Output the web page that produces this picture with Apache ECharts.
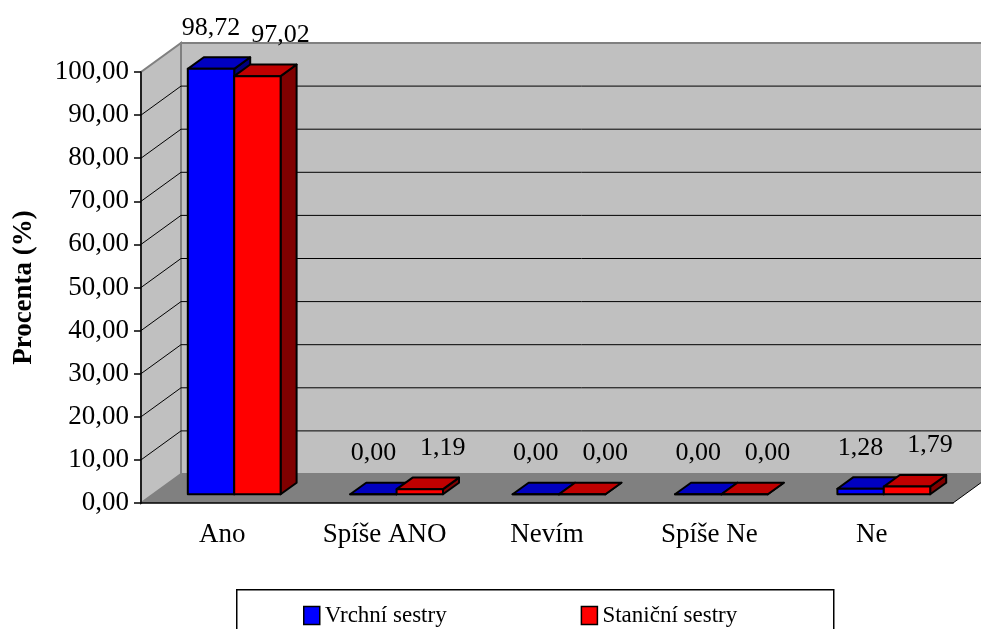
<!DOCTYPE html>
<html>
<head>
<meta charset="utf-8">
<script src="https://cdn.jsdelivr.net/npm/echarts@6/dist/echarts.min.js"></script>
<style>
  html, body { margin: 0; padding: 0; background: #ffffff; }
  #chart { width: 981px; height: 629px; }
</style>
</head>
<body>
<div id="chart"></div>
<script>
// Answers and percentages for both groups of nurses
const categories = ['Ano', 'Spíše ANO', 'Nevím', 'Spíše Ne', 'Ne'];
const vrchniSestry = [98.72, 0.00, 0.00, 0.00, 1.28];
const stanicniSestry = [97.02, 1.19, 0.00, 0.00, 1.79];
const seriesNames = ['Vrchní sestry', 'Staniční sestry'];
const yMin = 0, yMax = 100, yStep = 10;

// Pseudo-3D look: depth of the chart box in pixels and the slice the bars occupy
const DEPTH_X = 40, DEPTH_Y = -29;
const BAR_F0 = 0.3, BAR_F1 = 0.7;
const FONT = '"Liberation Serif", "Times New Roman", serif';
const FONT_SIZE = 27;
const LABEL_SIZE = 26;
const LEGEND_SIZE = 23;

const fmt = v => v.toFixed(2).replace('.', ',');

const palettes = [
  { front: '#0000FF', top: '#0000C0', side: '#000080' },
  { front: '#FF0000', top: '#C00000', side: '#800000' }
];

function wallsRenderer(params, api) {
  const cw = api.size([1, 0])[0];
  const x0 = api.coord([0, yMin])[0] - cw / 2;
  const x1 = api.coord([categories.length - 1, yMin])[0] + cw / 2;
  const yb = api.coord([0, yMin])[1];
  const yt = api.coord([0, yMax])[1];
  const dx = DEPTH_X, dy = DEPTH_Y;
  const children = [];
  // back wall
  children.push({ type: 'polygon', shape: { points: [[x0 + dx, yt + dy], [x1 + dx, yt + dy], [x1 + dx, yb + dy], [x0 + dx, yb + dy]] },
    style: { fill: '#C0C0C0', stroke: '#808080', lineWidth: 2 } });
  // left side wall
  children.push({ type: 'polygon', shape: { points: [[x0, yb], [x0, yt], [x0 + dx, yt + dy], [x0 + dx, yb + dy]] },
    style: { fill: '#C0C0C0', stroke: '#808080', lineWidth: 2 } });
  // floor
  children.push({ type: 'polygon', shape: { points: [[x0, yb], [x1, yb], [x1 + dx, yb + dy], [x0 + dx, yb + dy]] },
    style: { fill: '#808080', stroke: null } });
  children.push({ type: 'line', shape: { x1: x1, y1: yb, x2: x1 + dx, y2: yb + dy },
    style: { stroke: '#000', lineWidth: 1 } });
  // grid lines along the side and back walls
  for (let v = yMin + yStep; v < yMax; v += yStep) {
    const y = api.coord([0, v])[1];
    children.push({ type: 'polyline', shape: { points: [[x0, y], [x0 + dx, y + dy], [x1 + dx, y + dy]] },
      style: { stroke: '#000', lineWidth: 1, fill: null } });
  }
  return { type: 'group', children: children };
}

function barRenderer(seriesIdx) {
  const pal = palettes[seriesIdx];
  return function (params, api) {
    const ci = api.value(0), v = api.value(1);
    const base = api.coord([ci, 0]);
    const top = api.coord([ci, v]);
    const cw = api.size([1, 0])[0];
    const w = cw / 3.5;
    const xl = base[0] - w + seriesIdx * w;
    const xr = xl + w;
    const ox0 = DEPTH_X * BAR_F0, oy0 = DEPTH_Y * BAR_F0;
    const ox1 = DEPTH_X * BAR_F1, oy1 = DEPTH_Y * BAR_F1;
    const yb = base[1], yt = top[1];
    const edge = { stroke: '#000', lineWidth: 2, lineJoin: 'round' };
    const children = [
      { type: 'polygon', shape: { points: [[xr + ox0, yt + oy0], [xr + ox1, yt + oy1], [xr + ox1, yb + oy1], [xr + ox0, yb + oy0]] },
        style: Object.assign({ fill: pal.side }, edge) },
      { type: 'polygon', shape: { points: [[xl + ox0, yt + oy0], [xr + ox0, yt + oy0], [xr + ox1, yt + oy1], [xl + ox1, yt + oy1]] },
        style: Object.assign({ fill: pal.top }, edge) },
      { type: 'polygon', shape: { points: [[xl + ox0, yt + oy0], [xr + ox0, yt + oy0], [xr + ox0, yb + oy0], [xl + ox0, yb + oy0]] },
        style: Object.assign({ fill: pal.front }, edge) },
      { type: 'text', style: {
          text: fmt(v),
          x: (xl + xr) / 2 + (seriesIdx === 0 ? 12 : 35),
          y: yt + oy0 - 41,
          fill: '#000', font: LABEL_SIZE + 'px ' + FONT,
          align: 'center', verticalAlign: 'middle',
          textAlign: 'center', textVerticalAlign: 'middle'
        } }
    ];
    return { type: 'group', children: children };
  };
}

const chart = echarts.init(document.getElementById('chart'), null, { renderer: 'canvas' });
chart.setOption({
  backgroundColor: '#ffffff',
  animation: false,
  grid: { left: 141, right: 28, top: 72, bottom: 126, containLabel: false, outerBoundsMode: 'none' },
  xAxis: {
    type: 'category', data: categories, z: 10,
    axisLine: { lineStyle: { color: '#000', width: 1.5 } },
    axisTick: { length: 7, lineStyle: { color: '#000', width: 1.5 } },
    axisLabel: { color: '#000', fontFamily: FONT, fontSize: FONT_SIZE, margin: 18 },
    splitLine: { show: false }
  },
  yAxis: {
    type: 'value', min: yMin, max: yMax, interval: yStep, z: 10,
    name: 'Procenta (%)', nameLocation: 'middle', nameGap: 103,
    nameTextStyle: { color: '#000', fontFamily: FONT, fontSize: FONT_SIZE, fontWeight: 'bold' },
    axisLine: { show: true, lineStyle: { color: '#000', width: 1.5 } },
    axisTick: { show: true, length: 7, lineStyle: { color: '#000', width: 1.5 } },
    axisLabel: { color: '#000', fontFamily: FONT, fontSize: FONT_SIZE, margin: 12, formatter: fmt },
    splitLine: { show: false }
  },
  legend: {
    data: seriesNames, left: 298, top: 599, padding: 5, icon: 'rect',
    itemWidth: 16, itemHeight: 18, itemGap: 134,
    itemStyle: { borderColor: '#000', borderWidth: 1.5 },
    textStyle: { color: '#000', fontFamily: FONT, fontSize: LEGEND_SIZE, padding: [0, 0, 0, 0] }
  },
  graphic: [{
    type: 'rect', left: 236, top: 589, z: -1,
    shape: { width: 597, height: 60 },
    style: { fill: '#fff', stroke: '#000', lineWidth: 1.5 }
  }],
  series: [
    { type: 'custom', name: 'walls', z: 1, silent: true, renderItem: wallsRenderer, data: [[0, 0]], encode: { x: 0, y: 1 } },
    { type: 'custom', name: seriesNames[0], z: 2, renderItem: barRenderer(0), itemStyle: { color: palettes[0].front },
      data: vrchniSestry.map((v, i) => [i, v]), encode: { x: 0, y: 1 } },
    { type: 'custom', name: seriesNames[1], z: 3, renderItem: barRenderer(1), itemStyle: { color: palettes[1].front },
      data: stanicniSestry.map((v, i) => [i, v]), encode: { x: 0, y: 1 } }
  ]
});
</script>
</body>
</html>
